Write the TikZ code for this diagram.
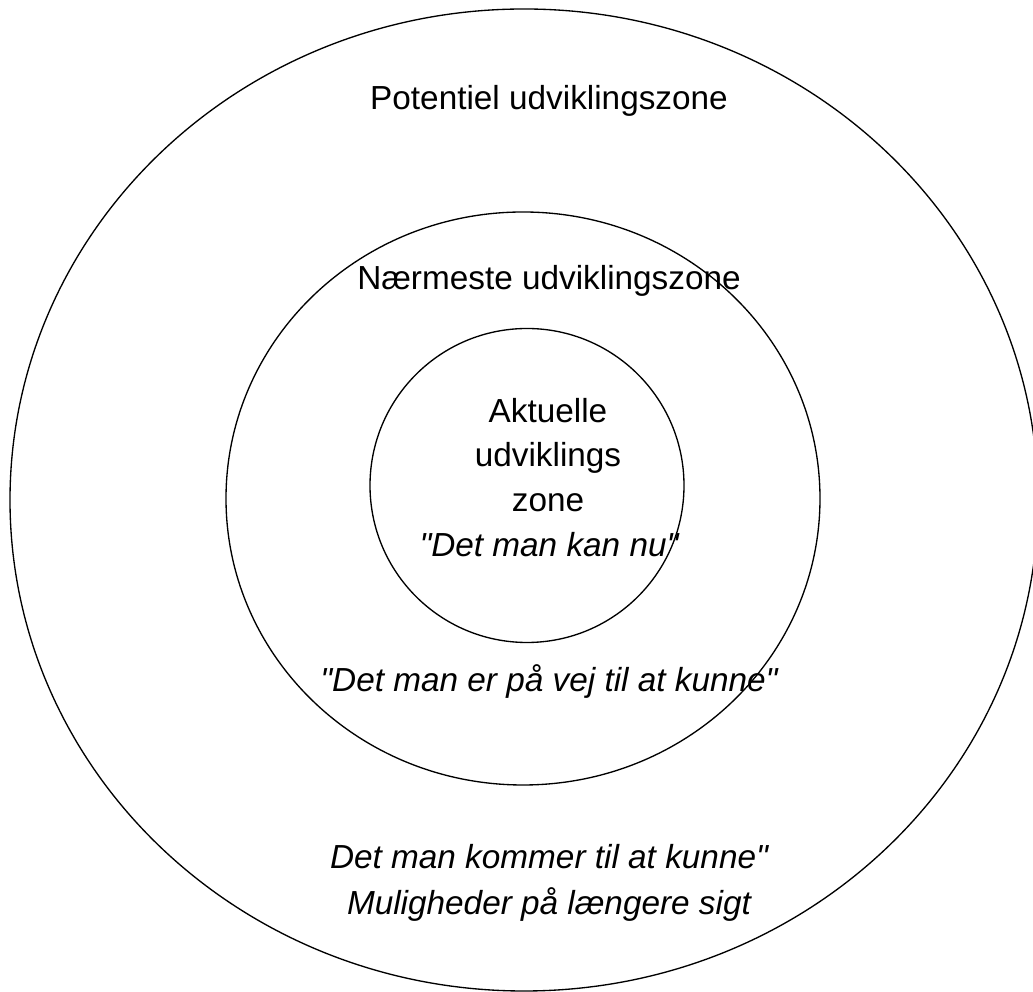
\documentclass[tikz,border=0pt]{standalone}
\usepackage{fontspec}
\setmainfont{Liberation Sans}
\usepackage{tikz}
\usetikzlibrary{shapes.geometric}

\begin{document}
\begin{tikzpicture}[
    x=0.75pt, y=0.75pt,
    zone/.style={draw, ellipse, line width=1pt, inner sep=0pt},
    label/.style={anchor=base, inner sep=0pt, font=\fontsize{25}{30}\selectfont},
    quote/.style={label, font=\fontsize{25}{30}\selectfont\itshape}
]
    \useasboundingbox (0,0) rectangle (1033,992);

    % the three zones (sizes in pt: 1px = 0.75pt)
    \node[zone, minimum width=771pt, minimum height=736.5pt] (outer) at (524,492) {};
    \node[zone, minimum width=445.5pt, minimum height=429.75pt] (middle) at (523,493.5) {};
    \node[zone, minimum width=235.5pt, minimum height=235.5pt] (inner) at (527,506.5) {};

    % outer zone
    \node[label] (potentiel) at (549,882) {Potentiel udviklingszone};
    \node[quote] (kommer) at (549,123) {Det man kommer til at kunne\textquotedbl};
    \node[quote] (sigt) at (549,77) {Muligheder på længere sigt};

    % middle zone
    \node[label] (naermeste) at (549,702) {Nærmeste udviklingszone};
    \node[quote] (paavej) at (549,300) {\textquotedbl Det man er på vej til at kunne\textquotedbl};

    % inner zone
    \node[label] (aktuelle) at (548,569) {Aktuelle};
    \node[label] (udv) at (548,525) {udviklings};
    \node[label] (zonetxt) at (548,480) {zone};
    \node[quote] (kannu) at (549,435) {\textquotedbl Det man kan nu\textquotedbl};
\end{tikzpicture}
\end{document}
